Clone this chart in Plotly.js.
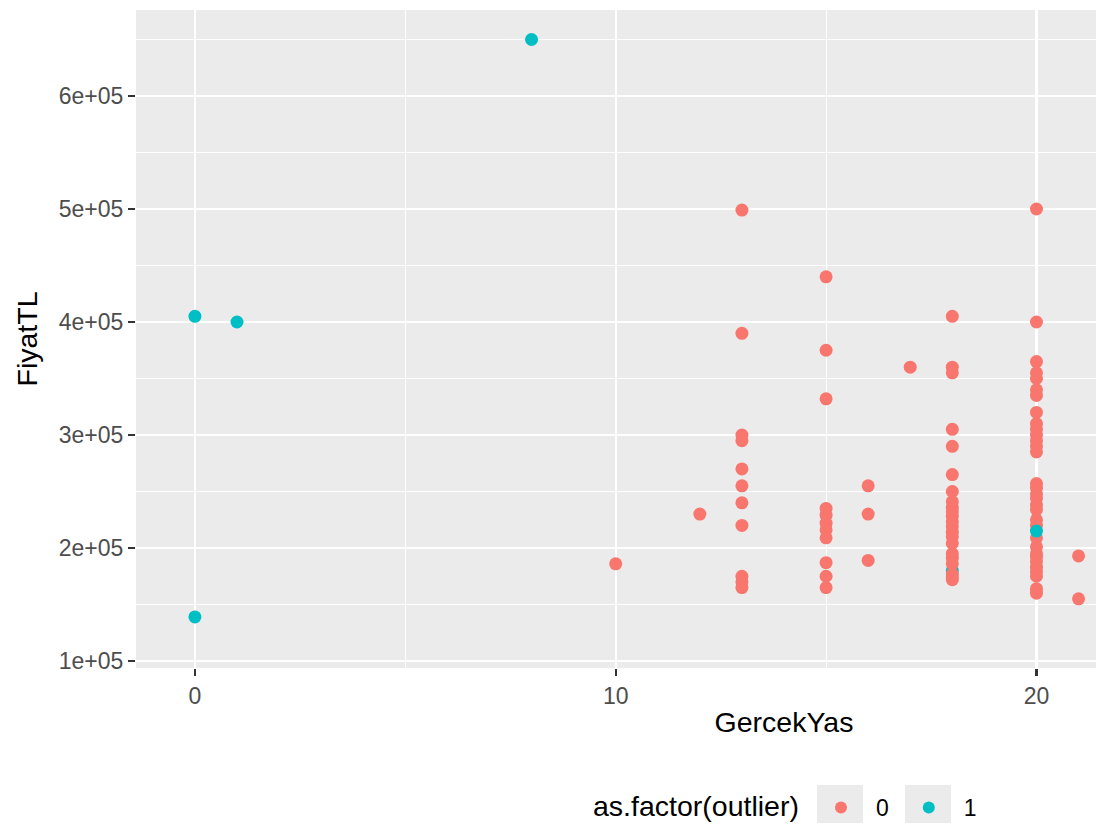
<!DOCTYPE html>
<html>
<head>
<meta charset="utf-8">
<script src="https://cdn.plot.ly/plotly-3.0.1.min.js"></script>
<style>
html,body{margin:0;padding:0;overflow:hidden;background:#fff;width:1096px;height:825px;}
#plot{width:1450px;height:860px;}
</style>
</head>
<body>
<div id="plot"></div>
<script>
// outlier = 0 (red)
const x0 = [10, 12,
  13,13,13,13,13,13,13,13,13,13,13,
  15,15,15,15,15,15,15,15,15,15,15,
  16,16,16, 17,
  18,18,18,18,18,18,18,18,18,18,18,18,18,18,18,18,18,18,18,18,18,18,
  20,20,20,20,20,20,20,20,20,20,20,20,20,20,20,20,20,20,20,20,20,20,20,20,20,20,20,20,20,20,20,20,
  21,21];
const y0 = [186000, 230000,
  499000,390000,300000,295000,270000,255000,240000,220000,175000,170000,165000,
  440000,375000,332000,235000,229000,222000,216000,209000,187000,175000,165000,
  255000,230000,189000, 360000,
  405000,360000,355000,305000,290000,265000,250000,241000,236000,232000,228000,223000,219000,214000,210000,204000,195000,191000,186000,177000,174000,172000,
  500000,400000,365000,355000,350000,340000,335000,320000,310000,305000,300000,295000,290000,285000,257000,253000,248000,244000,238000,234000,225000,220000,209000,201000,195000,192000,188000,183000,179000,175000,164000,160000,
  193000,155000];
// outlier = 1 (cyan)
const x1 = [0, 1, 8, 0, 20];
const y1 = [405000, 400000, 650000, 139000, 215000];
// outlier = 1 point drawn under the red ones
const x1under = [18];
const y1under = [180000];

const legendTitle = "as.factor(outlier)";
const groupNames = ["0", "1"];
const colors = ["#F8766D", "#00BFC4"];

const traces = [
  {x: x1under, y: y1under, type: "scatter", mode: "markers", showlegend: false,
   marker: {color: colors[1], size: 13}},
  {x: x0, y: y0, type: "scatter", mode: "markers", name: groupNames[0],
   marker: {color: colors[0], size: 13}},
  {x: x1, y: y1, type: "scatter", mode: "markers", name: groupNames[1],
   marker: {color: colors[1], size: 13}}
];

const FAM = "Liberation Sans, Arial, sans-serif";
const tickFont = {family: FAM, size: 23, color: "#4D4D4D"};
const titleFont = {family: FAM, size: 28.5, color: "#000000"};

// panel pixel geometry helpers (for legend key backgrounds)
const PL = 136, PR = 1432, PT = 10, PB = 668;
const px2x = p => (p - PL) / (PR - PL);
const py2y = p => (PB - p) / (PB - PT);
const keyBoxes = [[817, 863], [905, 951]].map(([a, b]) => ({
  type: "rect", xref: "paper", yref: "paper",
  x0: px2x(a), x1: px2x(b), y0: py2y(823), y1: py2y(785),
  fillcolor: "#EBEBEB", line: {width: 0}, layer: "below"
}));

const layout = {
  width: 1450, height: 860,
  margin: {l: PL, r: 1450 - PR, t: PT, b: 860 - PB},
  paper_bgcolor: "#FFFFFF",
  plot_bgcolor: "#EBEBEB",
  xaxis: {
    range: [-1.4, 29.4],
    tickvals: [0, 10, 20], ticktext: ["0", "10", "20"],
    showgrid: true, gridcolor: "#FFFFFF", gridwidth: 2.2,
    minor: {tickvals: [5, 15, 25], showgrid: true, gridcolor: "#FFFFFF", gridwidth: 1.1, ticks: ""},
    zeroline: false, showline: false,
    ticks: "outside", ticklen: 7, tickwidth: 2.2, tickcolor: "#333333",
    tickfont: tickFont,
    title: {text: "GercekYas", font: titleFont, standoff: 4}
  },
  yaxis: {
    range: [93800, 676100],
    tickvals: [100000, 200000, 300000, 400000, 500000, 600000],
    ticktext: ["1e+05", "2e+05", "3e+05", "4e+05", "5e+05", "6e+05"],
    showgrid: true, gridcolor: "#FFFFFF", gridwidth: 2.2,
    minor: {tickvals: [150000, 250000, 350000, 450000, 550000, 650000], showgrid: true, gridcolor: "#FFFFFF", gridwidth: 1.1, ticks: ""},
    zeroline: false, showline: false,
    ticks: "outside", ticklen: 7, tickwidth: 2.2, tickcolor: "#333333",
    tickfont: tickFont,
    title: {text: "FiyatTL", font: titleFont, standoff: 12}
  },
  shapes: keyBoxes,
  annotations: [{
    text: legendTitle, xref: "paper", yref: "paper",
    x: px2x(801), xanchor: "right", y: py2y(806), yanchor: "middle",
    showarrow: false, font: titleFont
  }],
  showlegend: true,
  legend: {
    orientation: "h",
    x: px2x(806), xanchor: "left",
    y: py2y(786), yanchor: "top",
    bgcolor: "rgba(0,0,0,0)",
    itemwidth: 60,
    font: {family: FAM, size: 23, color: "#000000"},
    itemsizing: "constant"
  }
};

Plotly.newPlot("plot", traces, layout, {displayModeBar: false, staticPlot: true});
</script>
</body>
</html>
